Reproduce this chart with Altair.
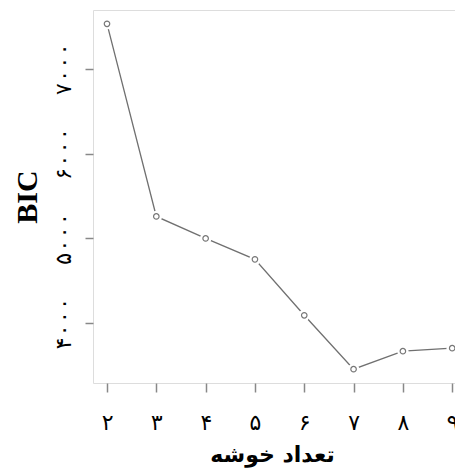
import altair as alt
import pandas as pd

clusters = [2, 3, 4, 5, 6, 7, 8, 9]
bic = [7529, 5259, 5000, 4753, 4094, 3459, 3671, 3706]

x_ticks = [2, 3, 4, 5, 6, 7, 8, 9]
x_labels = ["۲", "۳", "۴", "۵", "۶", "۷", "۸", "۹"]
y_ticks = [4000, 5000, 6000, 7000]
y_labels = ["۴۰۰۰", "۵۰۰۰", "۶۰۰۰", "۷۰۰۰"]

x_title = "تعداد خوشه"
y_title = "BIC"

df = pd.DataFrame({"k": clusters, "bic": bic})


def label_expr(vals, labs):
    parts = " : ".join(f"datum.value == {v} ? '{l}'" for v, l in zip(vals, labs))
    return parts + " : ''"


x_enc = alt.X(
    "k:Q",
    scale=alt.Scale(domain=[1.716, 9.28], nice=False, zero=False),
    axis=alt.Axis(
        values=x_ticks,
        labelExpr=label_expr(x_ticks, x_labels),
        title=x_title,
        grid=False,
        domain=False,
        tickColor="#888888",
        tickSize=9,
        tickWidth=1.5,
        labelFont="DejaVu Sans Mono",
        labelFontSize=22,
        labelColor="#000000",
        labelPadding=20,
        titleFont="DejaVu Sans",
        titleFontSize=22,
        titleFontWeight="bold",
        titleColor="#000000",
        titlePadding=11,
        titleX=179,
    ),
)
y_enc = alt.Y(
    "bic:Q",
    scale=alt.Scale(domain=[3296, 7692], nice=False, zero=False),
    axis=alt.Axis(
        values=y_ticks,
        labelExpr=label_expr(y_ticks, y_labels),
        title=y_title,
        grid=False,
        domain=False,
        tickColor="#888888",
        tickSize=8,
        tickWidth=1.5,
        labelAngle=270,
        labelFont="DejaVu Sans Mono",
        labelFontSize=22,
        labelColor="#000000",
        labelPadding=10,
        titleFont="Liberation Serif",
        titleFontSize=30,
        titleFontWeight="bold",
        titleColor="#000000",
        titleAngle=270,
        titlePadding=10,
    ),
)

base = alt.Chart(df).encode(x=x_enc, y=y_enc)

line = base.mark_line(color="#707070", strokeWidth=1.3)
gaps = base.mark_point(shape="circle", filled=True, color="white", opacity=1, size=130)
pts = base.mark_point(shape="circle", filled=False, color="#777777", strokeWidth=1.2, size=30, opacity=1)

chart = (
    alt.layer(line, gaps, pts)
    .properties(
        width=373,
        height=373,
        autosize=alt.AutoSizeParams(type="none"),
        padding={"left": 85, "top": 2, "right": -11, "bottom": 88},
    )
    .configure_view(stroke="#888888", strokeWidth=1.5)
    .configure(background="white")
)

chart.save("out.html", embed_options={"renderer": "svg", "actions": False})
